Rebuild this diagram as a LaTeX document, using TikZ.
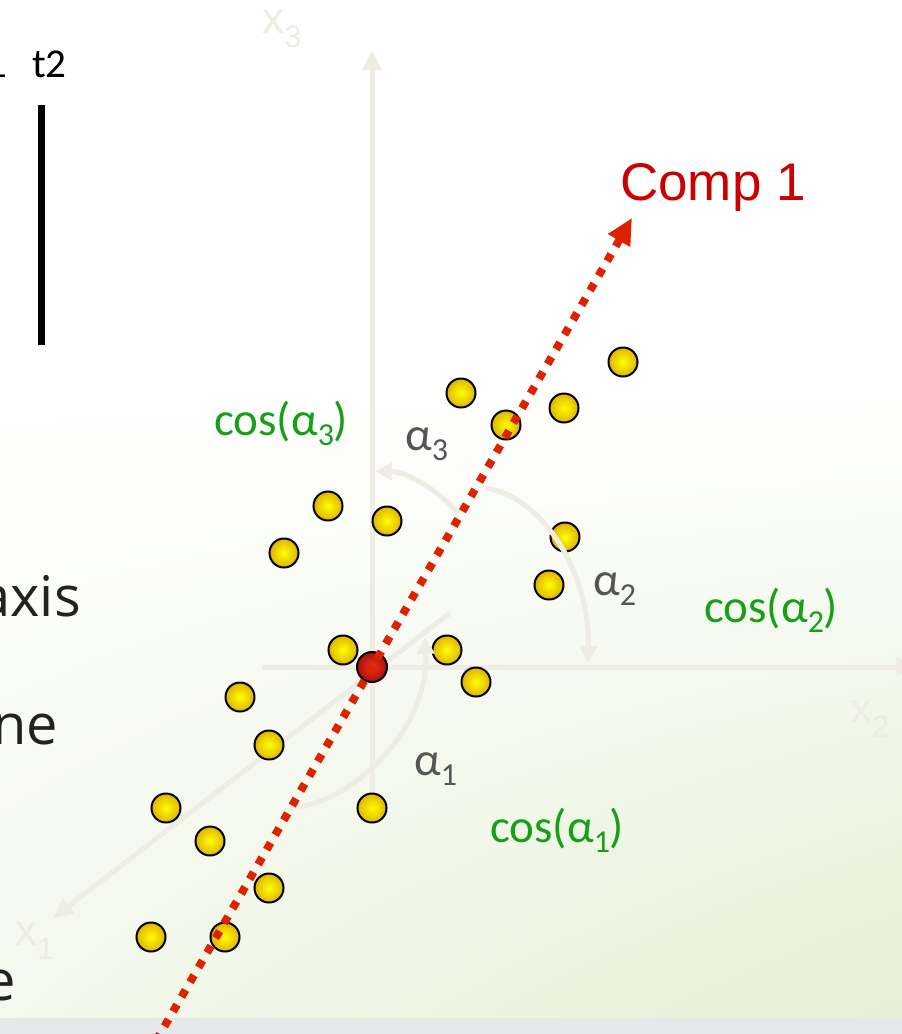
\documentclass[tikz,border=0pt]{standalone}
\usepackage{fontspec}
\setmainfont{Carlito}
\newfontfamily\arialf{Liberation Sans}
\newfontfamily\opensf{Open Sans}
\usetikzlibrary{arrows.meta,shadings}
\definecolor{axisc}{RGB}{238,236,227}
\definecolor{bgll}{RGB}{244,248,237}
\definecolor{bglr}{RGB}{228,239,212}
\definecolor{stripc}{RGB}{230,231,233}
\definecolor{compred}{RGB}{221,34,0}
\definecolor{comptext}{RGB}{204,0,0}
\definecolor{cosgreen}{RGB}{22,160,22}
\definecolor{alphagray}{RGB}{85,85,85}
\definecolor{ptin}{RGB}{255,255,0}
\definecolor{ptout}{RGB}{222,180,0}
\definecolor{redin}{RGB}{238,50,30}
\definecolor{redout}{RGB}{170,15,10}
\newcommand\mysub[3]{\raisebox{-#2pt}{\fontsize{#1}{#1}\selectfont #3}}
\tikzset{
  axisline/.style={draw=axisc, line width=5pt, -{Triangle[length=20pt,width=18pt]}},
  arcline/.style={draw=axisc, line width=5pt, -{Triangle[length=17pt,width=17pt]}},
  pt/.style={circle, minimum size=29pt, inner sep=0pt, draw=black, line width=2pt,
             inner color=ptin, outer color=ptout},
  redpt/.style={circle, minimum size=30pt, inner sep=0pt, draw=black, line width=2pt,
             inner color=redin, outer color=redout},
  compline/.style={draw=compred, line width=8pt, dash pattern=on 8pt off 9pt,
             -{Triangle[length=26pt,width=24pt]}},
  axlabel/.style={anchor=base west, inner sep=0pt, text=axisc, font=\arialf\fontsize{44}{44}\selectfont},
  coslabel/.style={anchor=base west, inner sep=0pt, text=cosgreen, font=\fontsize{47}{47}\selectfont},
  alabel/.style={anchor=base west, inner sep=0pt, text=alphagray, font=\fontsize{47}{47}\selectfont},
  lefttext/.style={anchor=base east, inner sep=0pt, text={rgb,255:red,34;green,34;blue,34}, font=\opensf\fontsize{56}{56}\selectfont},
  ttext/.style={inner sep=0pt, text=black, font=\fontsize{41}{41}\selectfont}
}
\begin{document}
\begin{tikzpicture}[x=1pt,y=-1pt]
\useasboundingbox (0,0) rectangle (902,1034);
\clip (0,0) rectangle (902,1034);
% background
\fill[white] (0,0) rectangle (902,1034);
\shade[upper left=white, upper right=white, lower left=bgll, lower right=bglr] (0,380) rectangle (902,1018);
\fill[stripc] (0,1018) rectangle (902,1034);

% left texts
\node[ttext, anchor=base east] (t1) at (7,77) {t1};
\node[ttext, anchor=base west] (t2) at (32,77) {t2};
\coordinate (bt) at (41.5,105);
\coordinate (bb) at (41.5,345);
\draw[line width=7pt, black] (bt) -- (bb);
\node[lefttext] (axis) at (81,616) {axis};
\node[lefttext] (ne) at (58,744) {ne};
\node[lefttext] (ee) at (16,1000) {e};

% axes
\coordinate (O) at (372,667);
\coordinate (x3b) at (372,797);
\coordinate (x3t) at (372,50);
\coordinate (x2b) at (262,667);
\coordinate (x2t) at (916,667);
\coordinate (x1b) at (450,613);
\coordinate (x1t) at (53,918);
\draw[axisline] (x3b) -- (x3t);
\draw[axisline] (x2b) -- (x2t);
\draw[axisline] (x1b) -- (x1t);
\node[axlabel] (lx3) at (262,33) {x\mysub{31}{14}{3}};
\node[axlabel] (lx2) at (850,723) {x\mysub{31}{14}{2}};
\node[axlabel] (lx1) at (15,945) {x\mysub{31}{14}{1}};

% points
\foreach \px/\py [count=\i] in {623/362, 461/393, 564/408, 506/425, 328/506, 387/521,
    565/537, 284/553, 549/585, 343/650, 447/650, 476/682, 240/697, 269/745,
    372/808, 166/808, 210/841, 269/888, 151/937, 225/937}
  \node[pt] (p\i) at (\px,\py) {};

% angle arcs
\coordinate (a3s) at (458,513);
\coordinate (a3e) at (375,471);
\coordinate (a2s) at (485,488);
\coordinate (a2e) at (588,663);
\coordinate (a1s) at (290,808);
\coordinate (a1e) at (425,637);
\draw[arcline] (a3s) .. controls (438,490) and (408,472) .. (a3e);
\draw[arcline] (a2s) .. controls (540,495) and (590,570) .. (a2e);
\draw[arcline] (a1s) .. controls (350,805) and (430,730) .. (a1e);

% labels
\node[coslabel] (c3) at (214,435) {cos(α\mysub{32}{10}{3})};
\node[coslabel] (c2) at (704,622) {cos(α\mysub{32}{10}{2})};
\node[coslabel] (c1) at (490,842) {cos(α\mysub{32}{10}{1})};
\node[alabel] (al3) at (405,450) {α\mysub{32}{10}{3}};
\node[alabel] (al2) at (593,595) {α\mysub{32}{10}{2}};
\node[alabel] (al1) at (414,775) {α\mysub{32}{10}{1}};

% centre point and component line
\node[redpt] (centre) at (O) {};
\coordinate (cs) at (156,1041);
\coordinate (ct) at (632,218);
\draw[compline] (cs) -- (ct);
\node[anchor=base west, inner sep=0pt, text=comptext, font=\arialf\fontsize{53}{53}\selectfont] (comp) at (620,200) {Comp 1};
\end{tikzpicture}
\end{document}
